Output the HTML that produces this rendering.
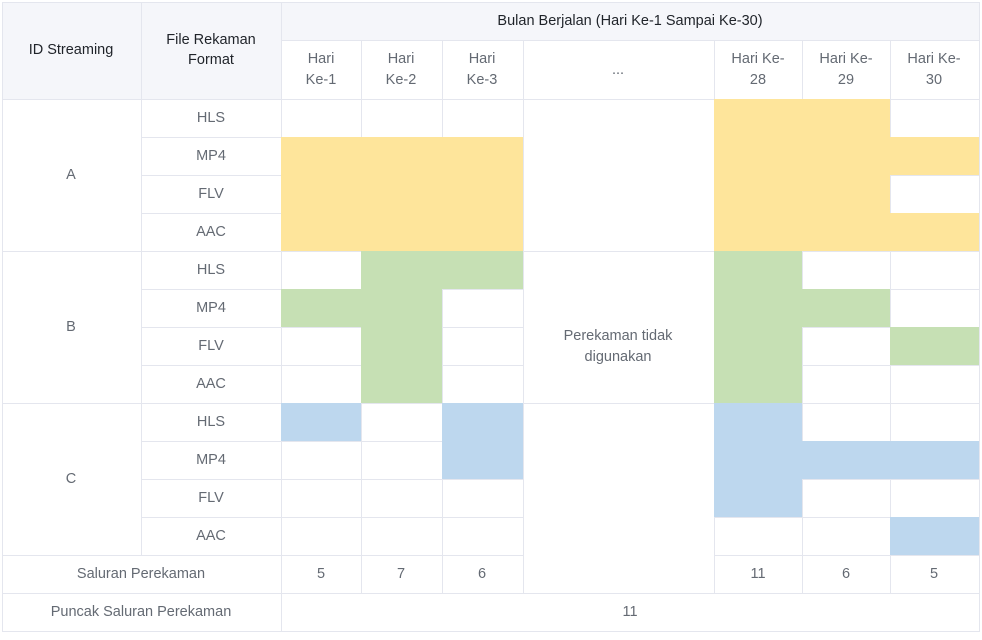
<!DOCTYPE html>
<html><head><style>
body{margin:0;background:#fff;}
svg text{font-family:"Liberation Sans","Noto Sans CJK SC",sans-serif;font-size:14.5px;text-anchor:middle;dominant-baseline:central;}
.h{fill:#1f2329}.b{fill:#646a73}
</style></head><body>
<svg width="982" height="635" xmlns="http://www.w3.org/2000/svg">
<rect x="2" y="2" width="977" height="97" fill="#f5f6fa"/>
<rect x="281" y="40" width="698" height="59" fill="#fff"/>
<g stroke="#e4e6ee" stroke-width="1" fill="none">
<rect x="2.5" y="2.5" width="977" height="629"/>
<line x1="141.5" y1="2" x2="141.5" y2="555"/>
<line x1="281.5" y1="2" x2="281.5" y2="631"/>
<line x1="281" y1="40.5" x2="979" y2="40.5"/>
<line x1="361.5" y1="40" x2="361.5" y2="593"/>
<line x1="442.5" y1="40" x2="442.5" y2="593"/>
<line x1="523.5" y1="40" x2="523.5" y2="593"/>
<line x1="714.5" y1="40" x2="714.5" y2="593"/>
<line x1="802.5" y1="40" x2="802.5" y2="593"/>
<line x1="890.5" y1="40" x2="890.5" y2="593"/>
<line x1="2" y1="99.5" x2="979" y2="99.5"/>
<line x1="2" y1="251.5" x2="979" y2="251.5"/>
<line x1="2" y1="403.5" x2="979" y2="403.5"/>
<line x1="2" y1="555.5" x2="523" y2="555.5"/>
<line x1="714" y1="555.5" x2="979" y2="555.5"/>
<line x1="2" y1="593.5" x2="979" y2="593.5"/>
<path d="M141 137.5H523M714 137.5H979M141 175.5H523M714 175.5H979M141 213.5H523M714 213.5H979M141 289.5H523M714 289.5H979M141 327.5H523M714 327.5H979M141 365.5H523M714 365.5H979M141 441.5H523M714 441.5H979M141 479.5H523M714 479.5H979M141 517.5H523M714 517.5H979"/>
</g>
<g fill="#fee59b">
<rect x="281" y="137" width="242" height="114"/>
<rect x="714" y="99" width="176" height="152"/>
<rect x="890" y="137" width="89" height="38"/>
<rect x="890" y="213" width="89" height="38"/>
</g>
<g fill="#c6e0b4">
<rect x="361" y="251" width="81" height="152"/>
<rect x="442" y="251" width="81" height="38"/>
<rect x="281" y="289" width="80" height="38"/>
<rect x="714" y="251" width="88" height="152"/>
<rect x="802" y="289" width="88" height="38"/>
<rect x="890" y="327" width="89" height="38"/>
</g>
<g fill="#bdd7ee">
<rect x="281" y="403" width="80" height="38"/>
<rect x="442" y="403" width="81" height="76"/>
<rect x="714" y="403" width="88" height="114"/>
<rect x="802" y="441" width="177" height="38"/>
<rect x="890" y="517" width="89" height="38"/>
</g>
<text class="h" x="71" y="50">ID Streaming</text>
<text class="h" x="211" y="40">File Rekaman</text>
<text class="h" x="211" y="60">Format</text>
<text class="h" x="630" y="21">Bulan Berjalan (Hari Ke-1 Sampai Ke-30)</text>
<g class="b">
<text x="321" y="59">Hari</text><text x="321" y="80">Ke-1</text>
<text x="401" y="59">Hari</text><text x="401" y="80">Ke-2</text>
<text x="482" y="59">Hari</text><text x="482" y="80">Ke-3</text>
<text x="618" y="70">...</text>
<text x="758" y="59">Hari Ke-</text><text x="758" y="80">28</text>
<text x="846" y="59">Hari Ke-</text><text x="846" y="80">29</text>
<text x="934" y="59">Hari Ke-</text><text x="934" y="80">30</text>
<text x="71" y="175">A</text><text x="71" y="327">B</text><text x="71" y="479">C</text>
<text x="211" y="118">HLS</text><text x="211" y="156">MP4</text><text x="211" y="194">FLV</text><text x="211" y="232">AAC</text>
<text x="211" y="270">HLS</text><text x="211" y="308">MP4</text><text x="211" y="346">FLV</text><text x="211" y="384">AAC</text>
<text x="211" y="422">HLS</text><text x="211" y="460">MP4</text><text x="211" y="498">FLV</text><text x="211" y="536">AAC</text>
<text x="618" y="336">Perekaman tidak</text><text x="618" y="357">digunakan</text>
<text x="141" y="574">Saluran Perekaman</text>
<text x="321" y="574">5</text><text x="401" y="574">7</text><text x="482" y="574">6</text>
<text x="758" y="574">11</text><text x="846" y="574">6</text><text x="934" y="574">5</text>
<text x="141" y="612">Puncak Saluran Perekaman</text>
<text x="630" y="612">11</text>
</g>
</svg>
</body></html>
